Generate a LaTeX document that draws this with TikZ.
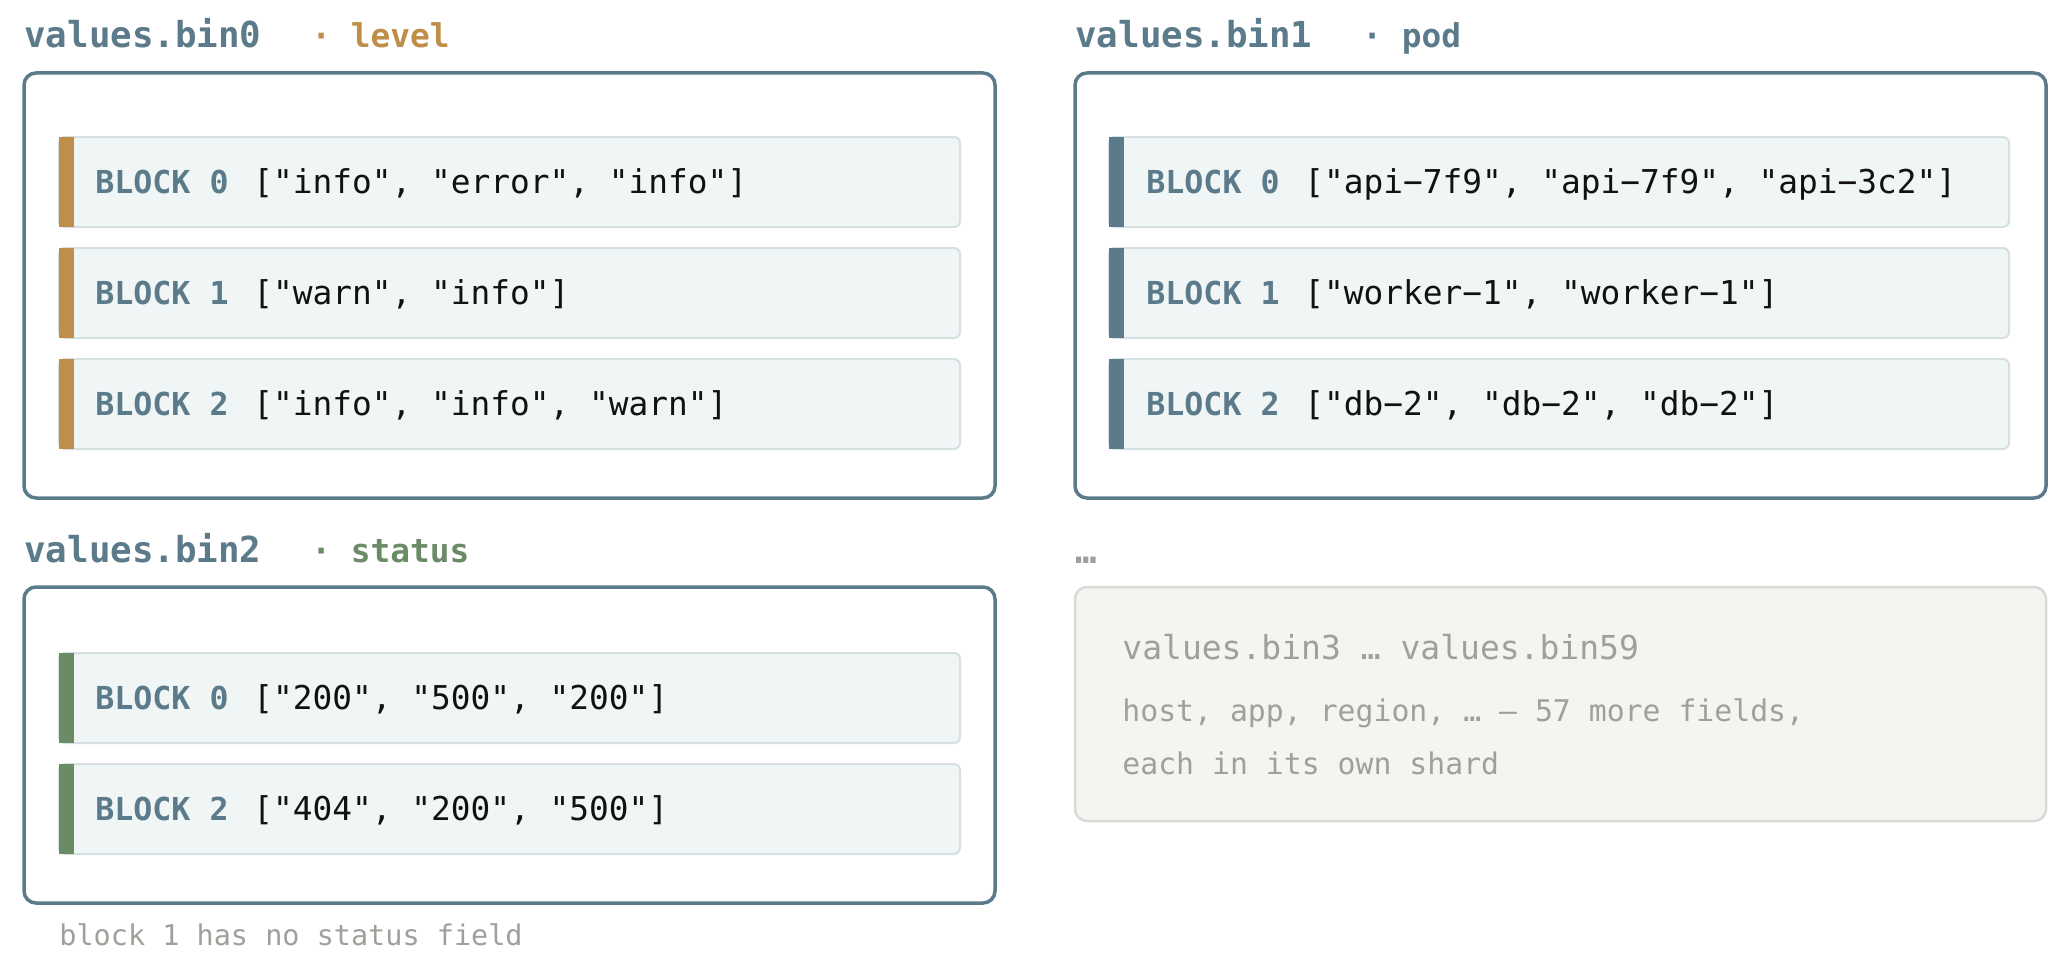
\documentclass[tikz,border=0pt]{standalone}
\usepackage{fontspec}
\newfontfamily\mono{DejaVu Sans Mono}
\definecolor{ardosia}{HTML}{5B7B8B}
\definecolor{ocre}{HTML}{BF8F4A}
\definecolor{verde}{HTML}{6B8B67}
\definecolor{cinza}{HTML}{A0A09B}
\definecolor{fundobloco}{HTML}{F0F5F5}
\definecolor{bordabloco}{HTML}{D5E0E3}
\definecolor{fundoresto}{HTML}{F4F5F1}
\definecolor{bordaresto}{HTML}{D9D9D7}
\definecolor{tinta}{HTML}{111111}
\begin{document}
\begin{tikzpicture}[x=0.5pt,y=-0.5pt,
    every node/.style={inner sep=0pt,anchor=base west},
    titulo/.style={font=\mono\bfseries\fontsize{17.9}{20}\selectfont,text=ardosia},
    sub/.style={font=\mono\bfseries\fontsize{16.4}{19}\selectfont},
    painel/.style={draw=ardosia,line width=1.75pt,rounded corners=6pt,fill=white},
    bloco/.style={draw=bordabloco,line width=1pt,fill=fundobloco,rounded corners=3pt},
    rotulo/.style={font=\mono\bfseries\fontsize{15.8}{18}\selectfont,text=ardosia},
    valor/.style={font=\mono\fontsize{16.4}{19}\selectfont,text=tinta},
    nota/.style={font=\mono\fontsize{14.9}{17}\selectfont,text=cinza}]
    \useasboundingbox[fill=white] (0,0) rectangle (2070,963);
    % Painel values.bin0
    \node[titulo] (t0) at (24,48) {values.bin0};
    \node[sub,text=ocre] (s0) at (311,48) {· level};
    \draw[painel] (24,73) rectangle (995,498);
    \draw[bloco] (59,137) rectangle (960,227);
    \fill[ocre] (59,137) rectangle (74,227);
    \node[rotulo] (b00) at (95,193) {BLOCK 0};
    \node[valor] (v00) at (253,193) {["info", "error", "info"]};
    \draw[bloco] (59,248) rectangle (960,338);
    \fill[ocre] (59,248) rectangle (74,338);
    \node[rotulo] (b01) at (95,304) {BLOCK 1};
    \node[valor] (v01) at (253,304) {["warn", "info"]};
    \draw[bloco] (59,359) rectangle (960,449);
    \fill[ocre] (59,359) rectangle (74,449);
    \node[rotulo] (b02) at (95,415) {BLOCK 2};
    \node[valor] (v02) at (253,415) {["info", "info", "warn"]};
    % Painel values.bin1
    \node[titulo] (t1) at (1075,48) {values.bin1};
    \node[sub,text=ardosia] (s1) at (1362,48) {· pod};
    \draw[painel] (1075,73) rectangle (2046,498);
    \draw[bloco] (1109,137) rectangle (2009,227);
    \fill[ardosia] (1109,137) rectangle (1124,227);
    \node[rotulo] (b10) at (1146,193) {BLOCK 0};
    \node[valor] (v10) at (1304,193) {["api−7f9", "api−7f9", "api−3c2"]};
    \draw[bloco] (1109,248) rectangle (2009,338);
    \fill[ardosia] (1109,248) rectangle (1124,338);
    \node[rotulo] (b11) at (1146,304) {BLOCK 1};
    \node[valor] (v11) at (1304,304) {["worker−1", "worker−1"]};
    \draw[bloco] (1109,359) rectangle (2009,449);
    \fill[ardosia] (1109,359) rectangle (1124,449);
    \node[rotulo] (b12) at (1146,415) {BLOCK 2};
    \node[valor] (v12) at (1304,415) {["db−2", "db−2", "db−2"]};
    % Painel values.bin2
    \node[titulo] (t2) at (24,562) {values.bin2};
    \node[sub,text=verde] (s2) at (311,562) {· status};
    \draw[painel] (24,587) rectangle (995,903);
    \draw[bloco] (59,653) rectangle (960,743);
    \fill[verde] (59,653) rectangle (74,743);
    \node[rotulo] (b20) at (95,709) {BLOCK 0};
    \node[valor] (v20) at (253,709) {["200", "500", "200"]};
    \draw[bloco] (59,764) rectangle (960,854);
    \fill[verde] (59,764) rectangle (74,854);
    \node[rotulo] (b22) at (95,820) {BLOCK 2};
    \node[valor] (v22) at (253,820) {["404", "200", "500"]};
    \node[nota,font=\mono\fontsize{14.25}{17}\selectfont] (n2) at (59,945) {block 1 has no status field};
    % Restante dos campos
    \node[titulo,text=cinza] (t3) at (1075,563) {…};
    \draw[draw=bordaresto,line width=1.25pt,rounded corners=6pt,fill=fundoresto] (1075,587) rectangle (2046,821);
    \node[nota,font=\mono\fontsize{16.5}{19}\selectfont] (r0) at (1122,659) {values.bin3 … values.bin59};
    \node[nota] (r1) at (1122,721) {host, app, region, … — 57 more fields,};
    \node[nota] (r2) at (1122,774) {each in its own shard};
\end{tikzpicture}
\end{document}
